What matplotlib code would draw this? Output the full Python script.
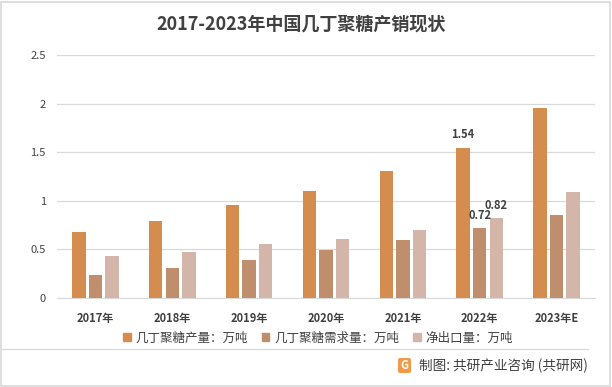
import matplotlib
matplotlib.use("Agg")
import matplotlib.pyplot as plt
from matplotlib.patches import Rectangle, FancyBboxPatch
from matplotlib.lines import Line2D
import numpy as np

plt.rcParams['font.family'] = ['Noto Sans CJK SC', 'DejaVu Sans']

years = ["2017年", "2018年", "2019年", "2020年", "2021年", "2022年", "2023年E"]
production = [0.68, 0.79, 0.96, 1.10, 1.31, 1.54, 1.95]
demand = [0.24, 0.31, 0.39, 0.49, 0.60, 0.72, 0.85]
net_export = [0.43, 0.47, 0.56, 0.61, 0.70, 0.82, 1.09]
series_names = ["几丁聚糖产量：万吨", "几丁聚糖需求量：万吨", "净出口量：万吨"]
colors = ["#D48C4F", "#BE8E6D", "#D4B5AA"]
yticks = [0, 0.5, 1, 1.5, 2, 2.5]
ytick_labels = ["0", "0.5", "1", "1.5", "2", "2.5"]

W, H = 612, 387
fig = plt.figure(figsize=(W / 100, H / 100), dpi=100)
fig.patch.set_facecolor("white")

# outer border
fig.add_artist(Rectangle((1 / W, 1 / H), (W - 3) / W, (H - 3) / H, transform=fig.transFigure,
                         fill=False, edgecolor="#D9D9D9", linewidth=1.2))

ax = fig.add_axes([57 / W, 1 - 298 / H, (595 - 57) / W, (298 - 55) / H])
x = np.arange(len(years))
bw = 0.175
off = 0.215
data = [production, demand, net_export]
for i, (vals, c) in enumerate(zip(data, colors)):
    ax.bar(x + (i - 1) * off, vals, width=bw, color=c, zorder=3)

ax.set_ylim(0, 2.5)
ax.set_xlim(-0.5, len(years) - 0.5)
ax.set_yticks(yticks)
ax.set_yticklabels(ytick_labels)
ax.yaxis.grid(True, color="#D9D9D9", linewidth=0.9, zorder=0)
ax.set_axisbelow(True)
for s in ["left", "right", "top"]:
    ax.spines[s].set_visible(False)
ax.spines["bottom"].set_color("#D9D9D9")
ax.tick_params(axis="y", length=0, labelsize=8, labelcolor="#404040", pad=8)
ax.tick_params(axis="x", length=0, labelsize=8, labelcolor="#404040", pad=10)
ax.set_xticks(x)
ax.set_xticklabels(years, fontweight="bold")

# data labels for 2022
ax.text(x[5] - off, production[5] + 0.08, f"{production[5]:.2f}", ha="center", va="bottom",
        fontsize=8, fontweight="bold", color="#404040")
ax.text(x[5], demand[5] + 0.06, f"{demand[5]:.2f}", ha="center", va="bottom",
        fontsize=8, fontweight="bold", color="#404040")
ax.text(x[5] + off, net_export[5] + 0.06, f"{net_export[5]:.2f}", ha="center", va="bottom",
        fontsize=8, fontweight="bold", color="#404040")

# title
fig.text(0.492, 1 - 24 / H, "2017-2023年中国几丁聚糖产销现状", ha="center", va="center",
         fontsize=13, fontweight="bold", color="#404040")

# legend
handles = [Rectangle((0, 0), 1, 1, color=c) for c in colors]
leg = fig.legend(handles, series_names, loc="center", bbox_to_anchor=(318 / W, 1 - 338 / H),
                 ncol=3, frameon=False, fontsize=9, handlelength=0.6, handleheight=0.6,
                 handletextpad=0.4, columnspacing=1.1)
for t in leg.get_texts():
    t.set_color("#404040")

# separator line
fig.add_artist(Line2D([2 / W, 588 / W], [1 - 349 / H, 1 - 349 / H], transform=fig.transFigure,
                      color="#D9D9D9", linewidth=0.9))

# source logo
fig.add_artist(FancyBboxPatch((398 / W, 1 - 373 / H), 13 / W, 15 / H, transform=fig.transFigure,
                              boxstyle="round,pad=0,rounding_size=0.004", facecolor="#F29A4A",
                              edgecolor="none"))
fig.text(404.5 / W, 1 - 365.5 / H, "G", ha="center", va="center", fontsize=8, fontweight="bold",
         color="white")
fig.text(588 / W, 1 - 366 / H, "制图: 共研产业咨询 (共研网)", ha="right", va="center",
         fontsize=9.8, color="#404040")

fig.savefig("out.png", dpi=100, facecolor="white")
